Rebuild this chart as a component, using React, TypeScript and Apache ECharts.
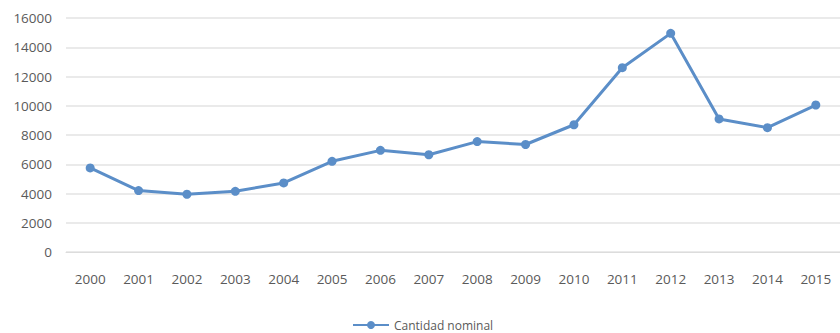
import React, { useEffect, useRef } from "react";
import * as echarts from "echarts";

const years = ["2000","2001","2002","2003","2004","2005","2006","2007","2008","2009","2010","2011","2012","2013","2014","2015"];
const seriesName = "Cantidad nominal";
const values = [5750, 4200, 3950, 4150, 4720, 6200, 6950, 6650, 7550, 7350, 8700, 12600, 14950, 9100, 8500, 10050];
const yMin = 0;
const yMax = 16000;
const yInterval = 2000;

export default function App() {
  const ref = useRef<HTMLDivElement>(null);
  useEffect(() => {
    document.body.style.margin = "0";
    const chart = echarts.init(ref.current!, null, { renderer: "svg" });
    const font = "'Open Sans', sans-serif";
    chart.setOption({
      animation: false,
      backgroundColor: "#ffffff",
      grid: { left: 66, top: 18, width: 781, bottom: 81, containLabel: false },
      legend: {
        data: [seriesName],
        left: 347,
        top: 314,
        itemWidth: 36,
        itemHeight: 10,
        itemGap: 5,
        textStyle: { color: "#5a5a5a", fontSize: 12, fontFamily: font },
      },
      xAxis: {
        type: "category",
        data: years,
        boundaryGap: true,
        axisLine: { show: true, lineStyle: { color: "#dcdcdc", width: 1 } },
        axisTick: { show: false },
        axisLabel: { color: "#5a5a5a", fontSize: 13.5, fontFamily: font, margin: 20, interval: 0 },
      },
      yAxis: {
        type: "value",
        min: yMin,
        max: yMax,
        interval: yInterval,
        axisLine: { show: false },
        axisTick: { show: false },
        splitLine: { lineStyle: { color: "#e3e3e3", width: 1.5 } },
        axisLabel: {
          color: "#5a5a5a",
          fontSize: 13.5,
          fontFamily: font,
          margin: 14,
          formatter: (v: number) => String(v),
        },
      },
      series: [
        {
          name: seriesName,
          type: "line",
          data: values,
          smooth: false,
          symbol: "circle",
          symbolSize: 9,
          lineStyle: { color: "#5b8ec8", width: 3 },
          itemStyle: { color: "#5b8ec8" },
        },
      ],
    });
    return () => chart.dispose();
  }, []);
  return <div ref={ref} style={{ width: 840, height: 333 }} />;
}
